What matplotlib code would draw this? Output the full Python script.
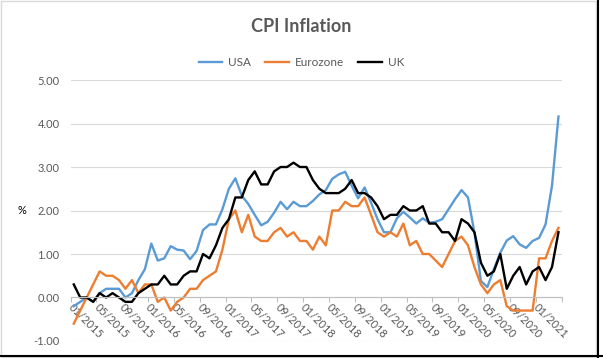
import numpy as np
import matplotlib
matplotlib.use('Agg')
import matplotlib.pyplot as plt
from matplotlib.ticker import FixedLocator, FuncFormatter

plt.rcParams['font.family'] = ['Lato', 'DejaVu Sans']

# monthly CPI, 01/2015 .. 04/2021
usa = [-0.2, -0.1, 0.0, -0.1, 0.1, 0.2, 0.2, 0.2, 0.0, 0.1, 0.4, 0.65,
       1.24, 0.85, 0.9, 1.18, 1.1, 1.08, 0.88, 1.07, 1.55, 1.68, 1.68, 2.03,
       2.5, 2.74, 2.34, 2.15, 1.9, 1.66, 1.74, 1.95, 2.2, 2.03, 2.2, 2.1,
       2.1, 2.22, 2.37, 2.47, 2.73, 2.83, 2.89, 2.57, 2.28, 2.53, 2.18, 1.8,
       1.5, 1.5, 1.82, 1.97, 1.84, 1.7, 1.82, 1.72, 1.74, 1.8, 2.03, 2.26,
       2.47, 2.3, 1.49, 0.38, 0.24, 0.65, 1.03, 1.31, 1.41, 1.22, 1.14, 1.3,
       1.37, 1.68, 2.57, 4.16]
eurozone = [-0.6, -0.3, 0.0, 0.3, 0.6, 0.5, 0.5, 0.4, 0.2, 0.4, 0.1, 0.3,
            0.3, -0.1, 0.0, -0.3, -0.1, 0.0, 0.2, 0.2, 0.4, 0.5, 0.6, 1.1,
            1.8, 2.0, 1.5, 1.9, 1.4, 1.3, 1.3, 1.5, 1.6, 1.4, 1.5, 1.3,
            1.3, 1.1, 1.4, 1.2, 2.0, 2.0, 2.2, 2.1, 2.1, 2.3, 1.9, 1.5,
            1.4, 1.5, 1.4, 1.7, 1.2, 1.3, 1.0, 1.0, 0.85, 0.7, 1.0, 1.3,
            1.4, 1.2, 0.7, 0.3, 0.1, 0.3, 0.4, -0.2, -0.3, -0.3, -0.3, -0.3,
            0.9, 0.9, 1.3, 1.6]
uk = [0.3, 0.0, 0.0, -0.1, 0.1, 0.0, 0.1, 0.0, -0.1, -0.1, 0.1, 0.2,
      0.3, 0.3, 0.5, 0.3, 0.3, 0.5, 0.6, 0.6, 1.0, 0.9, 1.2, 1.6,
      1.8, 2.3, 2.3, 2.7, 2.9, 2.6, 2.6, 2.9, 3.0, 3.0, 3.1, 3.0,
      3.0, 2.7, 2.5, 2.4, 2.4, 2.4, 2.5, 2.7, 2.4, 2.4, 2.3, 2.1,
      1.8, 1.9, 1.9, 2.1, 2.0, 2.0, 2.1, 1.7, 1.7, 1.5, 1.5, 1.3,
      1.8, 1.7, 1.5, 0.8, 0.5, 0.6, 1.0, 0.2, 0.5, 0.7, 0.3, 0.6,
      0.7, 0.4, 0.7, 1.5]

tick_labels = ['01/2015', '05/2015', '09/2015', '01/2016', '05/2016', '09/2016',
               '01/2017', '05/2017', '09/2017', '01/2018', '05/2018', '09/2018',
               '01/2019', '05/2019', '09/2019', '01/2020', '05/2020', '09/2020',
               '01/2021']

grey = '#595959'
x = np.arange(len(usa))

fig = plt.figure(figsize=(6.03, 3.58), dpi=100)
ax = fig.add_axes([0.117, 0.0475, 0.8145, 0.729])

ax.plot(x, usa, color='#5B9BD5', lw=1.7, label='USA')
ax.plot(x, eurozone, color='#ED7D31', lw=1.7, label='Eurozone')
ax.plot(x, uk, color='black', lw=1.7, label='UK')

ax.set_xlim(-0.5, len(usa) - 0.5)
ax.set_ylim(-1, 5)
ax.set_yticks(np.arange(-1, 6))
ax.yaxis.set_major_formatter(FuncFormatter(lambda v, p: f'{v:.2f}'))
ax.grid(axis='y', color='#d9d9d9', lw=0.8)
ax.set_axisbelow(True)

for s in ['left', 'right', 'top']:
    ax.spines[s].set_visible(False)
ax.spines['bottom'].set_position(('data', 0))
ax.spines['bottom'].set_color('#bfbfbf')
ax.spines['bottom'].set_linewidth(0.8)

ax.set_xticks(np.arange(0, len(usa), 4))
ax.set_xticklabels(tick_labels, rotation=-45, ha='left', va='top',
                   rotation_mode='anchor')
ax.xaxis.set_minor_locator(FixedLocator(np.arange(-0.5, len(usa), 4)))
ax.tick_params(axis='x', which='major', length=0, pad=3, labelsize=8, labelcolor=grey)
ax.tick_params(axis='x', which='minor', length=3.5, color='#bfbfbf', width=0.8)
ax.tick_params(axis='y', length=0, pad=8, labelsize=8, labelcolor=grey)

ax.set_ylabel('%', rotation=0, fontsize=8, color='black', labelpad=8, va='center')

fig.text(0.5, 1 - 26 / 358, 'CPI Inflation', ha='center', va='center',
         fontsize=13, fontweight='bold', color=grey)
fig.legend(loc='center', bbox_to_anchor=(0.5, 1 - 63 / 358), ncol=3, frameon=False,
           fontsize=8.5, handlelength=2.0, handletextpad=0.5, columnspacing=1.2,
           labelcolor=grey)

# chart frame
fig.add_artist(plt.Rectangle((0.001, 0.004), 0.987, 0.994, transform=fig.transFigure,
                             fill=False, edgecolor='#d9d9d9', lw=1))
fig.add_artist(plt.Line2D([0.991, 0.991], [0.0, 1.0], transform=fig.transFigure,
                          color='black', lw=1.5))
fig.add_artist(plt.Line2D([0.0, 1.0], [0.006, 0.006], transform=fig.transFigure,
                          color='black', lw=1.5))

fig.savefig('out.png', dpi=100)
